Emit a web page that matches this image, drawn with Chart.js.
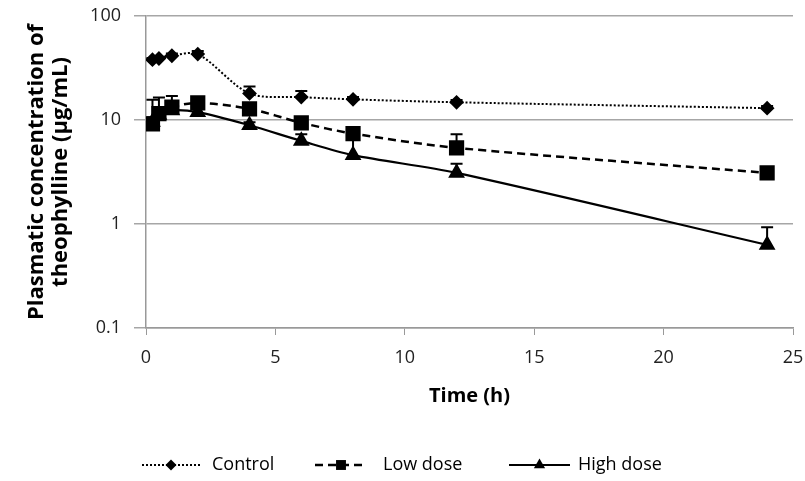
<!DOCTYPE html>
<html>
<head>
<meta charset="utf-8">
<script src="https://cdn.jsdelivr.net/npm/chart.js@4.4.1/dist/chart.umd.min.js"></script>
<style>
  html, body { margin: 0; padding: 0; background: #fff; }
  #wrap { width: 805px; height: 481px; }
</style>
</head>
<body>
<div id="wrap"><canvas id="grafico"></canvas></div>
<script>
// dados
const tempos = [0.25, 0.5, 1, 2, 4, 6, 8, 12, 24];
const controle = [38, 39, 41.5, 43, 18, 16.6, 15.8, 14.8, 13];
const controleErro = [1.5, 1.5, 2, 3, 3, 2.4, 0.8, 0.8, 0.6];
const doseBaixa = [9.2, 11.5, 13.3, 14.6, 12.8, 9.4, 7.4, 5.4, 3.1];
const doseBaixaErro = [6.5, 5, 3.7, 1.2, 1, 0.6, 0.8, 1.9, 0.4];
const doseAlta = [9.6, 11.2, 12.4, 11.9, 8.9, 6.3, 4.6, 3.1, 0.63];
const doseAltaErro = [1, 1, 1.2, 1, 0.6, 1, 2.2, 0.7, 0.3];
const ticksY = [0.1, 1, 10, 100];
const ticksX = [0, 5, 10, 15, 20, 25];

const fonte = "'Open Sans', sans-serif";

function pontos(valores) {
    return tempos.map((t, i) => ({ x: t, y: valores[i] }));
}

// barras de erro (só para cima)
const pluginErro = {
    id: 'barrasErro',
    afterDatasetsDraw(chart) {
        const ctx = chart.ctx;
        const sx = chart.scales.x, sy = chart.scales.y;
        chart.data.datasets.forEach((ds) => {
            if (!ds.erro) return;
            ctx.save();
            ctx.strokeStyle = '#000';
            ctx.lineWidth = 2;
            ds.data.forEach((p, i) => {
                const px = sx.getPixelForValue(p.x);
                const y0 = sy.getPixelForValue(p.y);
                const y1 = sy.getPixelForValue(p.y + ds.erro[i]);
                ctx.beginPath();
                ctx.moveTo(px, y0); ctx.lineTo(px, y1);
                ctx.moveTo(px - 6, y1); ctx.lineTo(px + 6, y1);
                ctx.stroke();
            });
            ctx.restore();
        });
    }
};

// legenda estilo Excel: linha + marcador
const pluginLegenda = {
    id: 'legendaLinha',
    afterDraw(chart) {
        const ctx = chart.ctx;
        const y = 465;
        const itens = [
            { x: 142, w: 58, r: 5.5, texto: 212 },
            { x: 315, w: 52, r: 7, texto: 383 },
            { x: 509, w: 61, r: 6.5, texto: 578 }
        ];
        ctx.save();
        chart.data.datasets.forEach((ds, i) => {
            const it = itens[i];
            ctx.strokeStyle = '#000';
            ctx.lineWidth = ds.borderWidth;
            ctx.setLineDash(ds.borderDash || []);
            ctx.beginPath();
            ctx.moveTo(it.x, y); ctx.lineTo(it.x + it.w, y);
            ctx.stroke();
            ctx.setLineDash([]);
            ctx.fillStyle = '#000';
            Chart.helpers.drawPoint(ctx, {
                pointStyle: ds.pointStyle, radius: it.r, rotation: 0, borderWidth: 0
            }, it.x + it.w / 2, y);
            ctx.fillStyle = '#000';
            ctx.font = '18px ' + fonte;
            ctx.textBaseline = 'middle';
            ctx.fillText(ds.label, it.texto, y);
        });
        ctx.restore();
    }
};

new Chart(document.getElementById('grafico'), {
    type: 'line',
    data: {
        datasets: [
            {
                label: 'Control', data: pontos(controle), erro: controleErro,
                borderColor: '#000', backgroundColor: '#000', borderWidth: 2,
                borderDash: [2, 2], pointStyle: 'rectRot', pointRadius: 6,
                tension: 0.3
            },
            {
                label: 'Low dose', data: pontos(doseBaixa), erro: doseBaixaErro,
                borderColor: '#000', backgroundColor: '#000', borderWidth: 2.5,
                borderDash: [8, 5], pointStyle: 'rect', pointRadius: 9,
                tension: 0.3
            },
            {
                label: 'High dose', data: pontos(doseAlta), erro: doseAltaErro,
                borderColor: '#000', backgroundColor: '#000', borderWidth: 2.2,
                pointStyle: 'triangle', pointRadius: 7.5,
                tension: 0.3
            }
        ]
    },
    options: {
        responsive: true,
        maintainAspectRatio: false,
        animation: false,
        layout: { padding: { left: 0, right: 12, top: 16, bottom: 73 } },
        plugins: { legend: { display: false }, tooltip: { enabled: false } },
        scales: {
            x: {
                type: 'linear', min: 0, max: 25,
                afterBuildTicks: (s) => { s.ticks = ticksX.map(v => ({ value: v })); },
                afterFit: (s) => { s.height = 80; s.paddingLeft = 0; s.paddingRight = 0; },
                grid: { drawOnChartArea: false, color: '#999', tickLength: 7 },
                border: { color: '#999', width: 1.5 },
                ticks: { color: '#222', font: { family: fonte, size: 18 }, padding: 12 },
                title: { display: true, text: 'Time (h)', color: '#000', padding: 0,
                         font: { family: fonte, size: 20, weight: 'bold' } }
            },
            y: {
                type: 'logarithmic', min: 0.1, max: 100,
                afterBuildTicks: (s) => { s.ticks = ticksY.map(v => ({ value: v })); },
                afterFit: (s) => { s.width = 146; s.paddingTop = 0; s.paddingBottom = 0; },
                grid: { color: '#a6a6a6', lineWidth: 1.5, tickLength: 12 },
                border: { color: '#999', width: 1.5 },
                ticks: { color: '#222', font: { family: fonte, size: 18 }, padding: 13,
                         callback: (v) => String(v) },
                title: { display: true, text: ['Plasmatic concentration of', 'theophylline (µg/mL)'],
                         color: '#000', padding: { top: 24, bottom: 0 },
                         font: { family: fonte, size: 22, weight: 'bold', lineHeight: 1.12 } }
            }
        }
    },
    plugins: [pluginErro, pluginLegenda]
});
</script>
</body>
</html>
